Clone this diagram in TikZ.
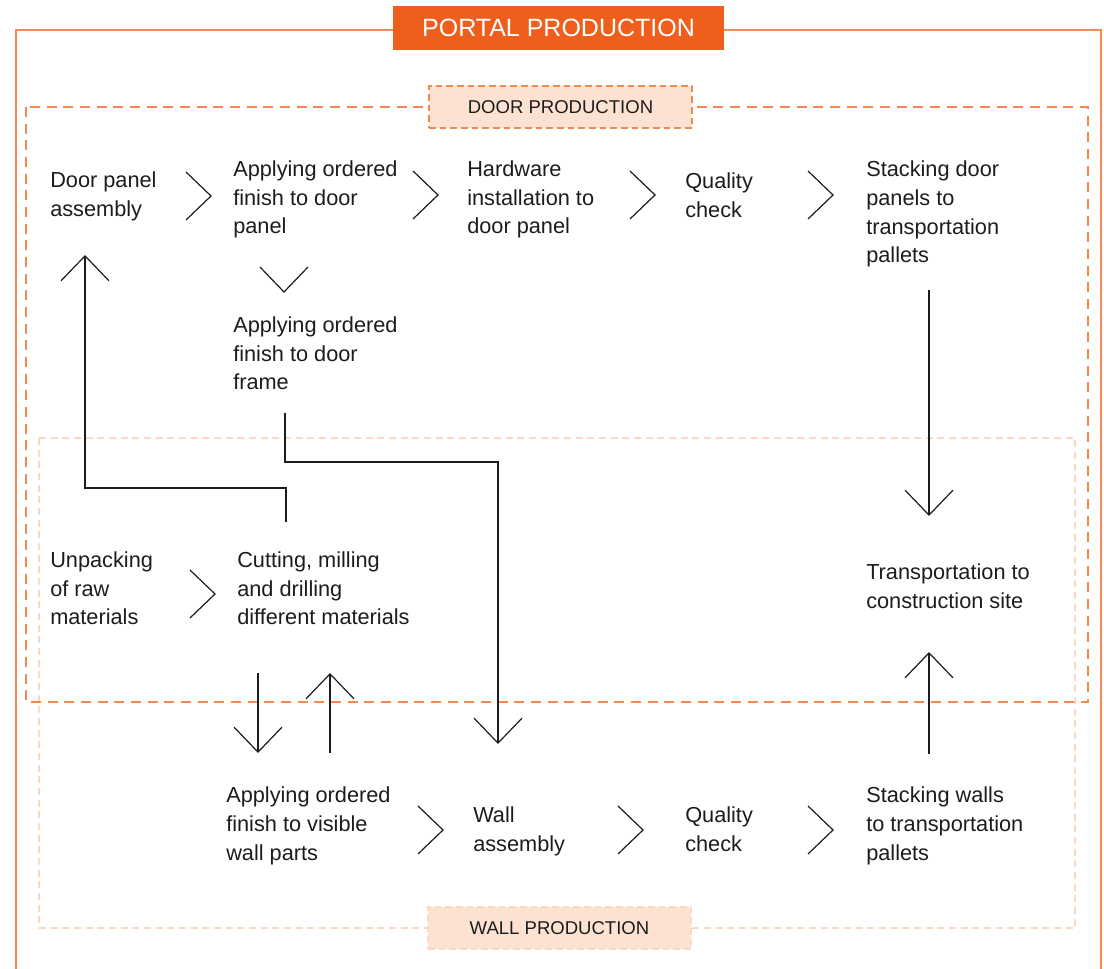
\documentclass[tikz,border=0pt]{standalone}
\usepackage{fontspec}
\setmainfont{Liberation Sans}
\usetikzlibrary{arrows.meta,calc}
\definecolor{portalorange}{HTML}{EE5F1E}
\definecolor{frameorange}{HTML}{F28A58}
\definecolor{doororange}{HTML}{F4894F}
\definecolor{wallpeach}{HTML}{FCD8C3}
\definecolor{labelfill}{HTML}{FDE2D2}
\definecolor{inkblack}{HTML}{1C1C1C}

\begin{document}
\begin{tikzpicture}[x=0.75pt,y=-0.75pt]
  %%Create the styles for the arrows, texts and area labels
  \tikzset{normal arrow/.style={draw,-{Straight Barb[length=18.75pt,width=36pt]},line width=0.9pt,color=inkblack}}
  \tikzset{chevron line/.style={draw,line width=0.9pt,color=inkblack}}
  \tikzset{stage text/.style={anchor=base west,align=left,inner sep=0pt,text=inkblack,font=\fontsize{16.3pt}{21.4pt}\selectfont}}
  \tikzset{area label/.style={minimum width=197.25pt,minimum height=31.5pt,inner sep=0pt,fill=labelfill,line width=1.2pt,dash pattern=on 5pt off 3pt,text=inkblack,font=\fontsize{13.9pt}{16pt}\selectfont}}
  \useasboundingbox (0,0) rectangle (1104,969);
  %%Frames of the production areas
  \draw[line width=1.5pt,color=frameorange] (16,969) -- (16,30) -- (1101,30) -- (1101,969);
  \draw[line width=1.6pt,color=wallpeach,dash pattern=on 5.25pt off 3.5pt] (39,438) rectangle (1075,928);
  \draw[line width=1.3pt,color=doororange,dash pattern=on 7.5pt off 5pt] (26,107) rectangle (1088,702);
  %%Area titles
  \node[fill=portalorange,minimum width=248.25pt,minimum height=33pt,inner sep=0pt,text=white,font=\fontsize{18.75pt}{22pt}\selectfont] (portal) at (558.5,28) {PORTAL PRODUCTION};
  \node[area label,draw=doororange] (door) at (560.5,107) {DOOR PRODUCTION};
  \node[area label,draw=wallpeach] (wall) at (559.5,928) {WALL PRODUCTION};
  %%Place the stages using the foreach construct (y is the last baseline)
  \foreach \in/\x/\y/\txt in {dpanel/50/216.5/{Door panel\\assembly},
      fpanel/233/234/{Applying ordered\\finish to door\\panel},
      hware/467/234/{Hardware\\installation to\\door panel},
      dcheck/685/217.5/{Quality\\check},
      dstack/866/262.6/{Stacking door\\panels to\\transportation\\pallets},
      fframe/233/390/{Applying ordered\\finish to door\\frame},
      unpack/50/625/{Unpacking\\of raw\\materials},
      cut/237/625/{Cutting, milling\\and drilling\\different materials},
      transport/866/608.5/{Transportation to\\construction site},
      fwall/226/860/{Applying ordered\\finish to visible\\wall parts},
      wassembly/473/851.5/{Wall\\assembly},
      wcheck/685/851.5/{Quality\\check},
      wstack/866/860/{Stacking walls\\to transportation\\pallets}}{
    \node[stage text] (n\in) at (\x,\y) {\txt};
  }
  %%Chevrons between the stages
  \foreach \tx/\ty in {211/196,438/195,655/195,833/195,215/594,443/830,643/830,833/830}{
    \path[chevron line] (\tx,\ty) ++(-25,-24) -- ++(25,24) -- ++(-25,24);
  }
  \path[chevron line] (284,292) ++(-24,-25) -- ++(24,25) -- ++(24,-25);
  %%End points of the long arrows
  \path (929,290) coordinate (dstack out) (929,516) coordinate (transport in);
  \path (929,754) coordinate (wstack out) (929,652) coordinate (transport up);
  \path (286,522) coordinate (cut out) (85,255) coordinate (dpanel in);
  \path (285,413) coordinate (fframe out) (498,744) coordinate (wassembly in);
  \path (258,673) coordinate (cut down) (258,753) coordinate (fwall in);
  \path (330,753) coordinate (fwall out) (330,673) coordinate (cut in);
  %%Drawing the arrows
  \path[normal arrow] (dstack out) -- (transport in);
  \path[normal arrow] (wstack out) -- (transport up);
  \path[normal arrow] (cut out) -- ++(0,-34) -| (dpanel in);
  \path[normal arrow] (fframe out) -- ++(0,49) -| (wassembly in);
  \path[normal arrow] (cut down) -- (fwall in);
  \path[normal arrow] (fwall out) -- (cut in);
\end{tikzpicture}
\end{document}
